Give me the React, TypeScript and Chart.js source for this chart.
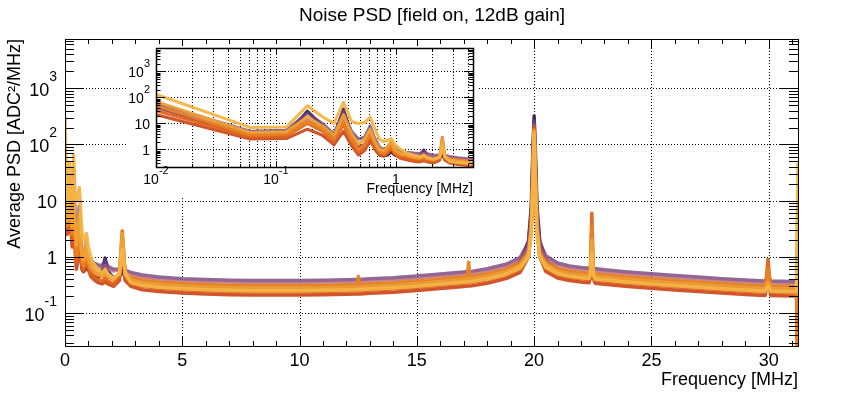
import React, { useEffect, useRef } from "react";
import { Chart, registerables } from "chart.js";

Chart.register(...registerables);

const FONT = "'Liberation Sans', Arial, Helvetica, sans-serif";

// ---------- data ----------
const FREQ = [
  0, 0.061, 0.122, 0.183, 0.244, 0.305, 0.366, 0.427, 0.488, 0.549, 0.61, 0.671, 0.732, 0.793, 0.854, 0.916, 0.977,
  1.099, 1.221, 1.404, 1.587, 1.709, 1.831, 2.075, 2.319, 2.441, 2.563, 2.808, 3.296,
  4, 5, 6, 7, 8, 9, 10, 11, 12,
  12.45, 12.51, 12.57,
  13, 14, 15, 16, 17, 17.15, 17.21, 17.27,
  18, 18.8, 19.4, 19.76, 19.88, 19.94, 20.0, 20.06, 20.12, 20.24, 20.5, 21, 21.5,
  22, 22.34, 22.4, 22.46, 22.52, 22.6, 23,
  24, 25, 26, 27, 28, 29,
  29.85, 29.97, 30.09, 30.5, 31, 31.19, 31.25,
];

const S0 = [
  90, 3.2, 3.5, 30, 8, 3, 36, 3, 1.2, 1.5, 3, 1.0, 0.6, 0.55, 0.6, 0.8, 0.6,
  0.5, 0.45, 0.42, 0.55, 0.95, 0.55, 0.42, 0.45, 0.6, 0.42, 0.41, 0.36,
  0.334, 0.313, 0.302, 0.293, 0.29, 0.29, 0.29, 0.293, 0.299,
  0.302, 0.302, 0.302,
  0.31, 0.325, 0.348, 0.377, 0.412, 0.418, 0.418, 0.418,
  0.47, 0.57, 0.8, 1.9, 8, 60, 320, 60, 8, 1.9, 0.85, 0.6, 0.52,
  0.49, 0.48, 0.5, 0.6, 0.5, 0.47, 0.45,
  0.41, 0.38, 0.357, 0.334, 0.313, 0.296,
  0.284, 0.35, 0.284, 0.281, 0.278, 0.278, 0.05,
];
const S1 = [
  120, 5, 5.5, 25, 10, 4, 30, 5, 2.5, 3, 8, 2.5, 1.2, 1.0, 1.2, 1.8, 1.0,
  0.85, 0.78, 0.72, 0.7, 0.85, 0.68, 0.6, 0.6, 0.9, 0.58, 0.53, 0.475,
  0.437, 0.41, 0.395, 0.384, 0.38, 0.38, 0.38, 0.384, 0.391,
  0.395, 0.395, 0.395,
  0.407, 0.426, 0.456, 0.494, 0.54, 0.547, 0.547, 0.547,
  0.616, 0.74, 0.97, 1.8, 6, 45, 260, 45, 6, 1.8, 1.05, 0.78, 0.69,
  0.65, 0.63, 0.64, 0.75, 0.64, 0.62, 0.59,
  0.54, 0.5, 0.467, 0.437, 0.41, 0.388,
  0.372, 0.45, 0.372, 0.369, 0.365, 0.365, 0.1,
];
const S2 = [
  80, 3.8, 4.0, 14, 6, 2.2, 15, 2.5, 1.2, 1.6, 4.5, 1.6, 0.9, 0.8, 1.0, 1.5, 0.9,
  0.78, 0.72, 0.66, 0.63, 0.7, 0.62, 0.56, 0.6, 1.2, 0.58, 0.49, 0.44,
  0.403, 0.378, 0.364, 0.354, 0.35, 0.35, 0.35, 0.354, 0.361,
  0.364, 0.364, 0.364,
  0.375, 0.392, 0.42, 0.455, 0.497, 0.504, 0.504, 0.504,
  0.567, 0.68, 0.88, 1.5, 4.2, 28, 220, 28, 4.2, 1.5, 0.95, 0.72, 0.63,
  0.6, 0.58, 0.62, 0.9, 0.62, 0.57, 0.54,
  0.497, 0.462, 0.43, 0.403, 0.378, 0.357,
  0.343, 0.5, 0.343, 0.34, 0.336, 0.336, 0.2,
];
const S3 = [
  40, 2.5, 2.6, 6, 3.5, 1.5, 5, 1.4, 0.6, 0.9, 2.2, 1.0, 0.6, 0.55, 0.7, 1.0, 0.65,
  0.45, 0.4, 0.35, 0.33, 0.36, 0.33, 0.3, 0.38, 1.5, 0.38, 0.3, 0.26,
  0.242, 0.227, 0.218, 0.212, 0.21, 0.21, 0.21, 0.212, 0.216,
  0.218, 0.218, 0.218,
  0.225, 0.235, 0.252, 0.273, 0.298, 0.302, 0.302, 0.302,
  0.34, 0.41, 0.53, 1.0, 3.8, 25, 200, 25, 3.8, 1.0, 0.55, 0.42, 0.38,
  0.357, 0.347, 0.42, 1.5, 0.42, 0.34, 0.326,
  0.298, 0.277, 0.258, 0.242, 0.227, 0.214,
  0.206, 0.4, 0.206, 0.204, 0.202, 0.202, 0.001,
];
const S4 = [
  60, 3.0, 3.2, 10, 5, 2.0, 9, 2.0, 0.8, 1.2, 3.2, 1.2, 0.7, 0.6, 0.8, 1.2, 0.7,
  0.5, 0.45, 0.4, 0.37, 0.42, 0.37, 0.33, 0.45, 2.9, 0.45, 0.34, 0.3,
  0.276, 0.259, 0.25, 0.242, 0.24, 0.24, 0.24, 0.242, 0.247,
  0.25, 0.25, 0.25,
  0.257, 0.269, 0.288, 0.312, 0.341, 0.346, 0.346, 0.346,
  0.39, 0.47, 0.6, 1.0, 3.5, 22, 190, 22, 3.5, 1.0, 0.62, 0.48, 0.43,
  0.408, 0.396, 0.6, 6.0, 0.6, 0.39, 0.372,
  0.341, 0.317, 0.295, 0.276, 0.259, 0.245,
  0.235, 0.9, 0.235, 0.233, 0.23, 0.23, 5,
];
const S5 = [
  100, 3.5, 3.8, 12, 6, 2.5, 12, 2.5, 1.0, 1.5, 4, 1.5, 0.8, 0.7, 0.9, 1.4, 0.8,
  0.6, 0.55, 0.48, 0.45, 0.5, 0.44, 0.4, 0.5, 2.0, 0.5, 0.43, 0.39,
  0.357, 0.335, 0.322, 0.313, 0.31, 0.31, 0.31, 0.313, 0.319,
  0.322, 0.45, 0.322,
  0.332, 0.347, 0.372, 0.403, 0.44, 0.446, 0.8, 0.446,
  0.5, 0.6, 0.78, 1.2, 3.2, 20, 180, 20, 3.2, 1.2, 0.81, 0.62, 0.56,
  0.527, 0.512, 0.6, 3.5, 0.6, 0.5, 0.48,
  0.44, 0.41, 0.381, 0.357, 0.335, 0.316,
  0.304, 0.6, 0.304, 0.301, 0.298, 0.298, 0.001,
];
const S6 = [
  150, 4.5, 4.8, 18, 8, 3.5, 22, 4, 1.6, 2.5, 6, 2.0, 1.0, 0.9, 1.3, 2.0, 1.0,
  0.7, 0.6, 0.5, 0.46, 0.55, 0.46, 0.4, 0.5, 2.6, 0.55, 0.39, 0.35,
  0.322, 0.302, 0.291, 0.283, 0.28, 0.28, 0.28, 0.283, 0.288,
  0.291, 0.291, 0.291,
  0.3, 0.314, 0.336, 0.364, 0.398, 0.403, 0.403, 0.403,
  0.454, 0.546, 0.7, 1.1, 3.0, 18, 170, 18, 3.0, 1.1, 0.73, 0.56, 0.5,
  0.476, 0.462, 0.55, 2.0, 0.55, 0.45, 0.434,
  0.398, 0.37, 0.344, 0.322, 0.302, 0.286,
  0.274, 0.35, 0.274, 0.272, 0.269, 0.269, 20,
];
const S7 = [
  300, 7.0, 7.2, 48, 18, 10, 65, 12, 10, 11, 17, 6, 2.4, 2.0, 2.2, 2.6, 1.6,
  1.0, 0.75, 0.6, 0.52, 0.6, 0.5, 0.42, 0.5, 1.4, 0.5, 0.35, 0.31,
  0.288, 0.27, 0.26, 0.253, 0.25, 0.25, 0.25, 0.253, 0.258,
  0.26, 0.26, 0.26,
  0.268, 0.28, 0.3, 0.325, 0.355, 0.36, 0.36, 0.36,
  0.405, 0.49, 0.63, 1.0, 2.5, 14, 150, 14, 2.5, 1.0, 0.65, 0.5, 0.45,
  0.425, 0.412, 0.48, 1.2, 0.48, 0.4, 0.388,
  0.355, 0.33, 0.308, 0.288, 0.27, 0.255,
  0.245, 0.3, 0.245, 0.243, 0.24, 0.24, 45,
];

const SERIES = [S0, S1, S2, S3, S4, S5, S6, S7];
const COLORS = [
  "rgba(59,28,83,0.95)",
  "rgba(110,67,128,0.8)",
  "rgba(170,96,128,0.75)",
  "rgba(206,76,34,0.95)",
  "rgba(224,100,24,0.95)",
  "rgba(234,130,32,0.95)",
  "rgba(240,160,52,0.95)",
  "rgba(243,180,70,0.95)",
];

const MAIN_TITLE = "Noise PSD [field on, 12dB gain]";
const X_TITLE = "Frequency [MHz]";
const Y_TITLE = "Average PSD [ADC\u00B2/MHz]";

const MAIN_X_MIN = 0;
const MAIN_X_MAX = 31.25;
const MAIN_Y_MIN = 0.026;
const MAIN_Y_MAX = 7500;
const MAIN_X_TICKS = [0, 5, 10, 15, 20, 25, 30];
const MAIN_X_LABELS = ["0", "5", "10", "15", "20", "25", "30"];
const MAIN_Y_TICKS = [0.1, 1, 10, 100, 1000];
const MAIN_Y_LABELS = ["10^-1", "1", "10", "10^2", "10^3"];

const INSET_X_MIN = 0.01;
const INSET_X_MAX = 4.4;
const INSET_Y_MIN = 0.21;
const INSET_Y_MAX = 8000;
const INSET_X_TICKS = [0.01, 0.1, 1];
const INSET_X_LABELS = ["10^-2", "10^-1", "1"];
const INSET_Y_TICKS = [1, 10, 100, 1000];
const INSET_Y_LABELS = ["1", "10", "10^2", "10^3"];
const INSET_DC_FREQ = 0.006;

// ---------- helpers ----------
type TickMark = { v: number; major: boolean };

function logTickMarks(min: number, max: number): TickMark[] {
  const out: TickMark[] = [];
  for (let e = Math.floor(Math.log10(min)) - 1; e <= Math.ceil(Math.log10(max)); e++) {
    for (let m = 1; m < 10; m++) {
      const v = m * Math.pow(10, e);
      if (v >= min && v <= max) out.push({ v, major: m === 1 });
    }
  }
  return out;
}

function linTickMarks(min: number, max: number, step: number, majorEvery: number): TickMark[] {
  const out: TickMark[] = [];
  for (let i = 0; min + i * step <= max + 1e-9; i++) {
    out.push({ v: min + i * step, major: i % majorEvery === 0 });
  }
  return out;
}

function drawRootLabel(
  ctx: CanvasRenderingContext2D,
  text: string,
  x: number,
  y: number,
  align: "right" | "center",
  size: number,
  expSize: number,
  rise: number
) {
  const parts = text.split("^");
  const base = parts[0];
  const exp = parts[1];
  ctx.font = `${size}px ${FONT}`;
  const wb = ctx.measureText(base).width;
  let we = 0;
  if (exp) {
    ctx.font = `${expSize}px ${FONT}`;
    we = ctx.measureText(exp).width;
  }
  const total = wb + we;
  const x0 = align === "right" ? x - total : x - total / 2;
  ctx.textAlign = "left";
  ctx.textBaseline = "alphabetic";
  ctx.font = `${size}px ${FONT}`;
  ctx.fillText(base, x0, y);
  if (exp) {
    ctx.font = `${expSize}px ${FONT}`;
    ctx.fillText(exp, x0 + wb, y - rise);
  }
}

const rootFrame = {
  id: "rootFrame",
  beforeDatasetsDraw(chart: any, _args: any, opts: any) {
    const { ctx, chartArea: a, scales } = chart;
    const x = scales.x;
    const y = scales.y;
    ctx.save();
    ctx.strokeStyle = "#000";
    ctx.lineWidth = 1;
    ctx.setLineDash([1, 2]);
    ctx.beginPath();
    for (const v of opts.xGrid) {
      const p = Math.round(x.getPixelForValue(v)) + 0.5;
      if (p <= a.left + 1 || p >= a.right - 1) continue;
      ctx.moveTo(p, a.top);
      ctx.lineTo(p, a.bottom);
    }
    for (const v of opts.yGrid) {
      const p = Math.round(y.getPixelForValue(v)) + 0.5;
      if (p <= a.top + 1 || p >= a.bottom - 1) continue;
      ctx.moveTo(a.left, p);
      ctx.lineTo(a.right, p);
    }
    ctx.stroke();
    ctx.restore();
  },
  afterDatasetsDraw(chart: any, _args: any, opts: any) {
    const { ctx, chartArea: a, scales } = chart;
    const x = scales.x;
    const y = scales.y;
    ctx.save();
    ctx.strokeStyle = "#000";
    ctx.lineWidth = 1;
    ctx.setLineDash([]);
    ctx.beginPath();
    for (const t of opts.xTicks as TickMark[]) {
      const p = Math.round(x.getPixelForValue(t.v)) + 0.5;
      const L = t.major ? opts.xMajor : opts.xMinor;
      ctx.moveTo(p, a.bottom);
      ctx.lineTo(p, a.bottom - L);
      ctx.moveTo(p, a.top);
      ctx.lineTo(p, a.top + L);
    }
    for (const t of opts.yTicks as TickMark[]) {
      const p = Math.round(y.getPixelForValue(t.v)) + 0.5;
      const L = t.major ? opts.yMajor : opts.yMinor;
      ctx.moveTo(a.left, p);
      ctx.lineTo(a.left + L, p);
      ctx.moveTo(a.right, p);
      ctx.lineTo(a.right - L, p);
    }
    ctx.stroke();
    ctx.lineWidth = opts.frameWidth || 1;
    ctx.strokeRect(a.left + 0.5, a.top + 0.5, a.right - a.left, a.bottom - a.top);

    // tick labels (ROOT style, with raised exponents)
    ctx.fillStyle = "#000";
    const L = opts.labels;
    opts.xLabelValues.forEach((v: number, i: number) => {
      drawRootLabel(ctx, opts.xLabelTexts[i], x.getPixelForValue(v), a.bottom + L.xBaseline, "center", L.size, L.expSize, L.rise);
    });
    opts.yLabelValues.forEach((v: number, i: number) => {
      drawRootLabel(ctx, opts.yLabelTexts[i], a.left - L.yGap, y.getPixelForValue(v) + L.yBaseline, "right", L.size, L.expSize, L.rise);
    });

    if (opts.title) {
      ctx.font = opts.titleFont;
      ctx.textAlign = "center";
      ctx.textBaseline = "middle";
      ctx.fillText(opts.title, chart.width / 2, opts.titleY);
    }
    ctx.restore();
  },
};

function fixScale(w: number | null, h: number | null) {
  return (scale: any) => {
    if (w !== null) scale.width = w;
    if (h !== null) scale.height = h;
    scale.paddingLeft = 0;
    scale.paddingRight = 0;
    scale.paddingTop = 0;
    scale.paddingBottom = 0;
  };
}

function setTicks(values: number[]) {
  return (scale: any) => {
    scale.ticks = values.map((v) => ({ value: v }));
  };
}

function makeDatasets(xMap: (f: number) => number, width: number) {
  return SERIES.map((s, k) => ({
    label: "run " + (k + 1),
    data: FREQ.map((f, i) => ({ x: xMap(f), y: s[i] })),
    borderColor: COLORS[k],
    backgroundColor: COLORS[k],
    borderWidth: width,
    pointRadius: 0,
    tension: 0,
    fill: false,
    borderJoinStyle: "round" as const,
    borderCapStyle: "round" as const,
    order: SERIES.length - k,
  }));
}

export default function App() {
  const mainRef = useRef<HTMLCanvasElement>(null);
  const insetRef = useRef<HTMLCanvasElement>(null);

  useEffect(() => {
    const main = new Chart(mainRef.current as HTMLCanvasElement, {
      type: "line",
      data: { datasets: makeDatasets((f) => f, 3.5) as any },
      plugins: [rootFrame as any],
      options: {
        animation: false,
        responsive: false,
        devicePixelRatio: 1,
        parsing: false as any,
        layout: { padding: { left: 0, right: 66, top: 39, bottom: 0 } },
        plugins: {
          legend: { display: false },
          title: { display: false },
          tooltip: { enabled: false },
          rootFrame: {
            xGrid: MAIN_X_TICKS,
            yGrid: MAIN_Y_TICKS,
            xTicks: linTickMarks(MAIN_X_MIN, MAIN_X_MAX, 1, 5),
            yTicks: logTickMarks(MAIN_Y_MIN, MAIN_Y_MAX),
            xMajor: 10,
            xMinor: 5,
            yMajor: 19,
            yMinor: 9,
            frameWidth: 1,
            xLabelValues: MAIN_X_TICKS,
            xLabelTexts: MAIN_X_LABELS,
            yLabelValues: MAIN_Y_TICKS,
            yLabelTexts: MAIN_Y_LABELS,
            labels: { size: 18, expSize: 14, rise: 15, xBaseline: 20, yGap: 8, yBaseline: 7.5 },
            title: MAIN_TITLE,
            titleFont: `19px ${FONT}`,
            titleY: 16,
          },
        } as any,
        scales: {
          x: {
            type: "linear",
            min: MAIN_X_MIN,
            max: MAIN_X_MAX,
            grid: { display: false, drawTicks: false },
            border: { display: false },
            afterBuildTicks: setTicks(MAIN_X_TICKS),
            afterFit: fixScale(null, 49),
            ticks: { display: false },
            title: {
              display: true,
              text: X_TITLE,
              align: "end",
              color: "#000",
              font: { family: FONT, size: 18 },
              padding: { top: 0, bottom: 4.2 },
            },
          },
          y: {
            type: "logarithmic",
            min: MAIN_Y_MIN,
            max: MAIN_Y_MAX,
            grid: { display: false, drawTicks: false },
            border: { display: false },
            afterBuildTicks: setTicks(MAIN_Y_TICKS),
            afterFit: fixScale(65, null),
            ticks: { display: false },
            title: {
              display: true,
              text: Y_TITLE,
              align: "end",
              color: "#000",
              font: { family: FONT, size: 18 },
              padding: { top: 4.7, bottom: 0 },
            },
          },
        },
      } as any,
    });

    const inset = new Chart(insetRef.current as HTMLCanvasElement, {
      type: "line",
      data: { datasets: makeDatasets((f) => (f === 0 ? INSET_DC_FREQ : f), 3) as any },
      plugins: [rootFrame as any],
      options: {
        animation: false,
        responsive: false,
        devicePixelRatio: 1,
        parsing: false as any,
        layout: { padding: { left: 0, right: 5, top: 2, bottom: 0 } },
        plugins: {
          legend: { display: false },
          title: { display: false },
          tooltip: { enabled: false },
          rootFrame: {
            xGrid: logTickMarks(INSET_X_MIN, INSET_X_MAX).map((t) => t.v),
            yGrid: INSET_Y_TICKS,
            xTicks: logTickMarks(INSET_X_MIN, INSET_X_MAX),
            yTicks: logTickMarks(INSET_Y_MIN, INSET_Y_MAX),
            xMajor: 6,
            xMinor: 3,
            yMajor: 9,
            yMinor: 4.5,
            frameWidth: 1.5,
            xLabelValues: INSET_X_TICKS,
            xLabelTexts: INSET_X_LABELS,
            yLabelValues: INSET_Y_TICKS,
            yLabelTexts: INSET_Y_LABELS,
            labels: { size: 14, expSize: 11, rise: 10, xBaseline: 17, yGap: 6, yBaseline: 5.5 },
          },
        } as any,
        scales: {
          x: {
            type: "logarithmic",
            min: INSET_X_MIN,
            max: INSET_X_MAX,
            grid: { display: false, drawTicks: false },
            border: { display: false },
            afterBuildTicks: setTicks(INSET_X_TICKS),
            afterFit: fixScale(null, 31),
            ticks: { display: false },
            title: {
              display: true,
              text: X_TITLE,
              align: "end",
              color: "#000",
              font: { family: FONT, size: 14 },
              padding: { top: 0, bottom: 0 },
            },
          },
          y: {
            type: "logarithmic",
            min: INSET_Y_MIN,
            max: INSET_Y_MAX,
            grid: { display: false, drawTicks: false },
            border: { display: false },
            afterBuildTicks: setTicks(INSET_Y_TICKS),
            afterFit: fixScale(29, null),
            ticks: { display: false },
          },
        },
      } as any,
    });

    return () => {
      main.destroy();
      inset.destroy();
    };
  }, []);

  return (
    <div style={{ position: "fixed", left: 0, top: 0, width: 864, height: 395, background: "#fff" }}>
      <canvas
        ref={mainRef}
        width={864}
        height={395}
        style={{ position: "absolute", left: 0, top: 0, width: 864, height: 395 }}
      />
      <canvas
        ref={insetRef}
        width={351}
        height={152}
        style={{ position: "absolute", left: 127, top: 46, width: 351, height: 152, background: "#fff" }}
      />
    </div>
  );
}
